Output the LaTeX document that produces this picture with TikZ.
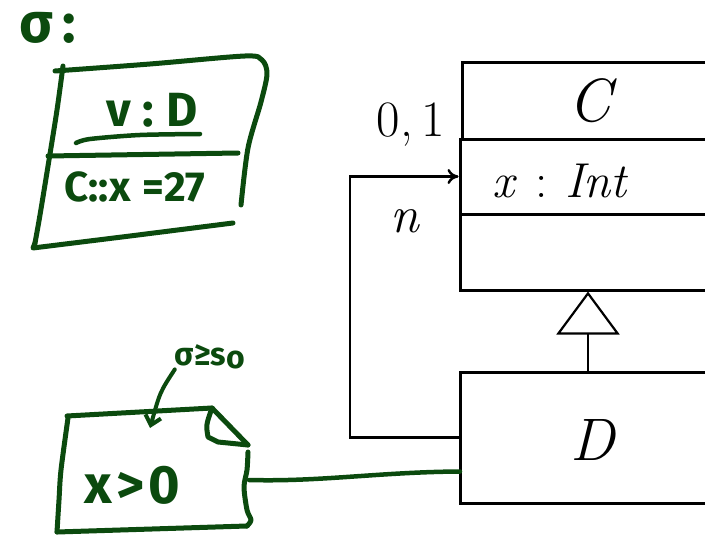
\documentclass[tikz,border=0pt]{standalone}
\usepackage{amsmath,amssymb}
\usepackage{fontspec}
\newfontfamily\hand{Fira Sans}
\usepackage{tikz}
\usetikzlibrary{ positioning, arrows.meta, calc }
\usepackage{xcolor}
\definecolor{ink}{HTML}{0B4A0E}

\begin{document}
\begin{tikzpicture}[
  x=1pt, y=-1pt,
  cls/.style={draw, line width=3pt, minimum width=256pt, inner sep=0pt},
  lbl/.style={inner sep=0pt},
  assoc/.style={line width=2.4pt, -{To[length=11pt, width=15pt]}},
  gen/.style={line width=2.2pt, -{Triangle[open, length=43pt, width=63pt]}},
  pen/.style={draw=ink, line width=5pt, line cap=round, line join=round},
  scrawl/.style={text=ink, inner sep=0pt, font=\hand\bfseries},
]
  \useasboundingbox (0,0) rectangle (705,535);
  \clip (0,0) rectangle (705,535);

  % class diagram
  \node[cls, minimum height=76pt, font=\fontsize{61}{64}\selectfont\itshape] (cname) at (590,101) {C};
  \node[cls, minimum height=75pt] (cattr) at (588,176.5) {};
  \node[cls, minimum height=76pt] (cops) at (588,252) {};
  \node[cls, minimum height=131pt] (dbox) at (588,437.5) {};
  \node[lbl, font=\fontsize{60}{64}\selectfont\itshape] (dname) at (593,440) {D};
  \node[lbl, anchor=west, font=\fontsize{49}{52}\selectfont] (attr) at (492,181) {\textit{x}\hspace{19pt}:\hspace{17pt}\textit{Int}};

  \draw[gen] (dbox.north) -- (cops.south);

  \coordinate (elbow) at (350,437.5);
  \draw[assoc] (dbox.west) -- (elbow) |- (cattr.west);
  \node[lbl, font=\fontsize{51}{54}\selectfont] (mult) at (411,125) {0,\,1};
  \node[lbl, font=\fontsize{52}{54}\selectfont\itshape] (role) at (405,221) {n};

  % object sigma
  \node[scrawl, font=\hand\bfseries\fontsize{56}{60}\selectfont] (sig) at (48,28) {σ\hspace{9pt}:};
  \draw[pen] plot[smooth] coordinates {(55,71) (150,64) (245,56) (262,60) (267,74) (261,102) (248,148) (241,205)};
  \draw[pen] plot[smooth] coordinates {(63,66) (57,110) (49,160) (40,215) (35,243)};
  \draw[pen] (35,243) -- (33,248) -- (130,236) -- (233,223);
  \draw[pen] (48,156) -- (238,153);
  \node[scrawl, font=\hand\bfseries\fontsize{48}{50}\selectfont] (objname) at (152,110) {v\hspace{12pt}:\hspace{12pt}D};
  \draw[pen, line width=4.5pt] plot[smooth] coordinates {(76,143) (90,139) (140,135) (200,134)};
  \node[scrawl, font=\hand\bfseries\fontsize{42}{44}\selectfont] (objattr) at (135,187) {C::x\hspace{12pt}=27};

  % note
  \draw[pen] (67,416) -- (212,408) -- (248,445);
  \draw[pen] (212,408) .. controls (206,425) .. (208,437) -- (218,442) -- (248,445);
  \draw[pen] plot[smooth] coordinates {(248,452) (247,470) (244,487) (247,510) (251,520) (247,526)};
  \draw[pen] (247,526) -- (57,532);
  \draw[pen] plot[smooth] coordinates {(57,532) (59,500) (61,470) (68,418)};
  \node[scrawl, font=\hand\bfseries\fontsize{54}{56}\selectfont] (cond) at (132,485) {x\hspace{4pt}>\hspace{4pt}0};

  \node[scrawl, font=\hand\bfseries\fontsize{32}{34}\selectfont] (ann) at (210,357) {σ≥s\raisebox{-3pt}{o}};
  \coordinate (hook) at (150,428);
  \draw[pen, line width=4pt, -{Straight Barb[length=9pt, width=16pt]}] (ann.south west) .. controls (160,392) .. (hook);

  \coordinate (noteport) at (249,480);
  \draw[pen, line width=4.5pt] (noteport) .. controls (320,482) and (380,472) .. ($(dbox.west)+(1.5,34)$);
\end{tikzpicture}
\end{document}
